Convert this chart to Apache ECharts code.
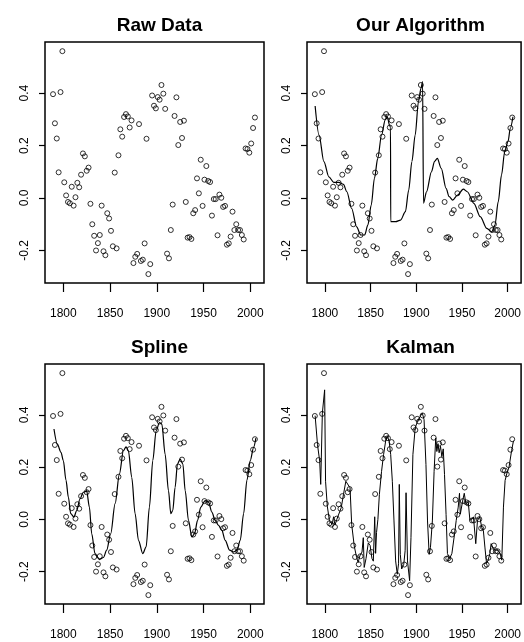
<!DOCTYPE html>
<html>
<head>
<meta charset="utf-8">
<script src="https://cdn.jsdelivr.net/npm/echarts@6/dist/echarts.min.js"></script>
<style>html,body{margin:0;padding:0;background:#fff}#c{width:524px;height:642px}</style>
</head>
<body>
<div id="c"></div>
<script>
var panelTitles = ["Raw Data", "Our Algorithm", "Spline", "Kalman"];
var xTicks = [1800, 1850, 1900, 1950, 2000];
var yTicks = [-0.2, 0.0, 0.2, 0.4];

var years = [1789,1791,1793,1795,1797,1799,1801,1803,1805,1807,1809,1811,1813,1815,1817,1819,1821,1823,1825,1827,
1829,1831,1833,1835,1837,1839,1841,1843,1845,1847,1849,1851,1853,1855,1857,1859,1861,1863,1865,1867,
1869,1871,1873,1875,1877,1879,1881,1883,1885,1887,1889,1891,1893,1895,1897,1899,1901,1903,1905,1907,
1909,1911,1913,1915,1917,1919,1921,1923,1925,1927,1929,1931,1933,1935,1937,1939,1941,1943,1945,1947,
1949,1951,1953,1955,1957,1959,1961,1963,1965,1967,1969,1971,1973,1975,1977,1979,1981,1983,1985,1987,
1989,1991,1993,1995,1997,1999,2001,2003,2005];
var rawValues = [0.396,0.285,0.227,0.098,0.404,0.56,0.06,0.01,-0.015,-0.02,0.043,-0.029,0.003,0.058,0.041,0.089,0.17,0.159,0.104,0.116,
-0.022,-0.1,-0.144,-0.2,-0.172,-0.141,-0.029,-0.203,-0.218,-0.058,-0.078,-0.125,-0.184,0.097,-0.192,0.163,0.262,0.234,0.309,0.32,
0.311,0.269,0.296,-0.248,-0.224,-0.213,0.282,-0.24,-0.235,-0.173,0.226,-0.29,-0.252,0.391,0.352,0.342,0.385,0.375,0.431,0.398,
0.34,-0.212,-0.23,-0.122,-0.025,0.313,0.384,0.202,0.29,0.229,0.295,-0.015,-0.151,-0.149,-0.156,-0.058,-0.046,0.075,0.018,0.146,
-0.03,0.07,0.122,0.065,0.061,-0.067,-0.004,-0.004,-0.142,0.013,0.001,-0.034,-0.03,-0.178,-0.173,-0.147,-0.052,-0.122,-0.1,-0.122,
-0.122,-0.141,-0.158,0.189,0.187,0.173,0.208,0.267,0.307];

var algYears = [1789.3,1793.6,1798.9,1804.3,1809.6,1815,1820.3,1824,1829.3,1834.7,1839.3,1843.5,1847,1850.7,1854.2,1857.8,1862,1866,1868.4,1870.6,
1871.8,1872,1877.4,1882.8,1888.1,1891.7,1895.2,1898.8,1902.4,1905.2,1906.9,1907.9,1911.2,1916.6,1920,1923,1927.3,1932.6,1936,1939.8,
1945.1,1951.5,1955.8,1963,1970,1977.2,1982.6,1986.1,1989.7,1993.3,1996.8,2000.4,2002.9,2005.8];
var algValues = [0.351,0.24,0.139,0.081,0.06,0.06,0.052,0.024,-0.04,-0.11,-0.141,-0.141,-0.103,-0.027,0.075,0.151,0.24,0.298,0.31,0.279,
0.27,-0.09,-0.09,-0.084,-0.052,0.03,0.139,0.24,0.368,0.419,0.444,-0.02,0.024,0.1,0.14,0.151,0.113,0.037,0.005,-0.008,
0.011,0.034,0.024,-0.02,-0.071,-0.116,-0.129,-0.103,-0.014,0.088,0.177,0.215,0.266,0.31];

var splineYears = [1790,1793.6,1797.5,1800,1802.9,1805.4,1807.9,1811.4,1814.3,1817.9,1821.4,1825,1827.9,1830.4,1833.9,1838.6,1842.9,1846.4,1850.7,1855.4,
1860,1864.3,1867.1,1869.6,1873.2,1876.8,1880.4,1885,1888.6,1892.1,1895.7,1899.3,1902.9,1905.4,1908.9,1912.5,1915,1917.1,1919.6,1922.1,
1925,1927.9,1930.4,1933.9,1937.5,1940.4,1943.6,1947.1,1951.8,1955.4,1958.9,1962.5,1966.1,1969.6,1973.2,1977.9,1982.1,1985.7,1989.3,1992.9,
1996.4,2000,2003.6,2006];
var splineValues = [0.346,0.288,0.257,0.225,0.149,0.085,0.022,0.009,0.034,0.079,0.104,0.108,0.047,-0.055,-0.131,-0.154,-0.146,-0.118,-0.055,0.06,
0.174,0.263,0.278,0.263,0.161,0.022,-0.08,-0.131,-0.105,0.047,0.225,0.339,0.371,0.365,0.25,0.11,0.022,0.034,0.123,0.212,
0.231,0.212,0.11,-0.004,-0.067,-0.055,-0.004,0.047,0.072,0.066,0.028,-0.004,-0.023,-0.042,-0.08,-0.118,-0.125,-0.118,-0.08,0.022,
0.149,0.225,0.276,0.311];

var kalmanYears = [1789.3,1791.9,1794.3,1795.4,1797.2,1799.7,1800.7,1802.6,1805,1807.9,1809.5,1811,1813,1815,1817.9,1820.3,1822.9,1824.5,1827.5,1829.3,
1832.1,1834.7,1836.4,1838.2,1840.6,1842,1843,1845,1847.5,1849.5,1851.5,1853,1854.5,1855.5,1856.5,1858,1859.6,1862,1864.2,1866.7,
1868.5,1870.3,1872,1873.8,1875.6,1877.4,1879.2,1880.6,1881.4,1882.5,1884,1886.3,1887.8,1888.8,1890.4,1892.7,1894.2,1896.3,1898.8,1901.3,
1904.2,1906.6,1908.5,1910.6,1912.3,1914.1,1915.5,1917.6,1919.5,1921.3,1922.5,1923.8,1925,1926.5,1928,1929.5,1930.9,1932.6,1934.1,1936.6,
1939,1941.9,1943.7,1945.9,1947.3,1948.2,1950.7,1952.5,1954.3,1956.9,1958.7,1960.5,1962.6,1965.1,1967,1969.5,1971.6,1973.4,1975.1,1976.9,
1978.7,1980.5,1981.9,1983.6,1986.5,1989.4,1991.8,1993.6,1995.4,1997.2,1999,2001.5,2004.3,2006.4];
var kalmanValues = [0.397,0.286,0.223,0.134,0.407,0.496,0.146,0.051,-0.006,-0.019,0.01,-0.022,0.0,0.006,0.045,0.095,0.146,0.15,0.121,-0.019,
-0.102,-0.146,-0.165,-0.14,-0.125,-0.07,-0.184,-0.15,-0.09,-0.1,-0.15,-0.16,0.01,-0.13,-0.05,0.0,0.095,0.184,0.248,0.305,
0.318,0.299,0.248,0.146,-0.006,-0.159,-0.21,-0.17,0.134,-0.134,-0.19,-0.172,-0.12,0.102,-0.159,-0.235,-0.07,0.248,0.35,0.375,
0.394,0.407,0.382,0.21,-0.006,-0.134,-0.108,-0.006,0.184,0.312,0.26,0.29,0.255,0.28,0.24,0.27,0.172,0.019,-0.131,-0.15,
-0.13,-0.055,-0.004,0.047,0.1,0.02,0.07,0.1,0.06,0.066,-0.004,-0.004,0.009,-0.093,-0.004,0.009,-0.03,-0.042,-0.106,-0.169,
-0.156,-0.131,-0.093,-0.106,-0.118,-0.118,-0.131,-0.156,0.047,0.149,0.174,0.2,0.263,0.301];

function pairs(xs, ys) { return xs.map(function (x, i) { return [x, ys[i]]; }); }

var FONT = "'Liberation Sans', Arial, Helvetica, sans-serif";
var gridPos = [
  {left: 45, top: 42, width: 219, height: 241},
  {left: 307, top: 42, width: 219, height: 241},
  {left: 45, top: 364, width: 219, height: 240},
  {left: 307, top: 364, width: 219, height: 240}
];
var titleTops = [11, 11, 333, 333];

var grids = [], xAxes = [], yAxes = [], titles = [], series = [];
gridPos.forEach(function (g, i) {
  grids.push({left: g.left, top: g.top, width: g.width, height: g.height, show: true,
    borderColor: '#000', borderWidth: 1.5, backgroundColor: 'transparent', containLabel: false});
  xAxes.push({type: 'value', gridIndex: i, min: 1780.4, max: 2014.7, position: 'bottom',
    splitLine: {show: false}, axisLine: {show: false, onZero: false},
    axisTick: {show: true, customValues: xTicks, length: 9, lineStyle: {color: '#000', width: 1.2}},
    axisLabel: {show: true, customValues: xTicks, margin: 25, color: '#000', fontSize: 12, fontFamily: FONT,
      formatter: function (v) { return String(Math.round(v)); }}
  });
  yAxes.push({type: 'value', gridIndex: i, min: -0.324, max: 0.595, position: 'left',
    splitLine: {show: false}, axisLine: {show: false, onZero: false},
    axisTick: {show: true, customValues: yTicks, length: 6, lineStyle: {color: '#000', width: 1.2}},
    axisLabel: {show: true, customValues: yTicks, rotate: 90, margin: 14, color: '#000', fontSize: 12, fontFamily: FONT,
      formatter: function (v) { return Number(v).toFixed(1); }}
  });
  titles.push({text: panelTitles[i], left: g.left + g.width / 2 - (i % 2 === 1 ? 1 : 0), top: titleTops[i], textAlign: 'center',
    textStyle: {fontSize: 19, fontWeight: 'bold', color: '#000', fontFamily: FONT}});
  series.push({type: 'scatter', xAxisIndex: i, yAxisIndex: i, data: pairs(years, rawValues),
    symbol: 'circle', symbolSize: 5, silent: true, z: 2,
    itemStyle: {color: 'rgba(255,255,255,0)', borderColor: '#000', borderWidth: 1}});
});

var lineStyle = {color: '#000', width: 1.2};
series.push({type: 'line', xAxisIndex: 1, yAxisIndex: 1, data: pairs(algYears, algValues), showSymbol: false,
  smooth: 0.3, smoothMonotone: 'x', lineStyle: lineStyle, silent: true, z: 3});
series.push({type: 'line', xAxisIndex: 2, yAxisIndex: 2, data: pairs(splineYears, splineValues), showSymbol: false,
  smooth: 0.3, smoothMonotone: 'x', lineStyle: lineStyle, silent: true, z: 3});
series.push({type: 'line', xAxisIndex: 3, yAxisIndex: 3, data: pairs(kalmanYears, kalmanValues), showSymbol: false,
  smooth: false, lineStyle: {color: '#000', width: 1}, silent: true, z: 3});

var chart = echarts.init(document.getElementById('c'), null, {renderer: 'canvas'});
chart.setOption({
  animation: false,
  backgroundColor: '#fff',
  title: titles,
  grid: grids,
  xAxis: xAxes,
  yAxis: yAxes,
  series: series
});
</script>
</body>
</html>
